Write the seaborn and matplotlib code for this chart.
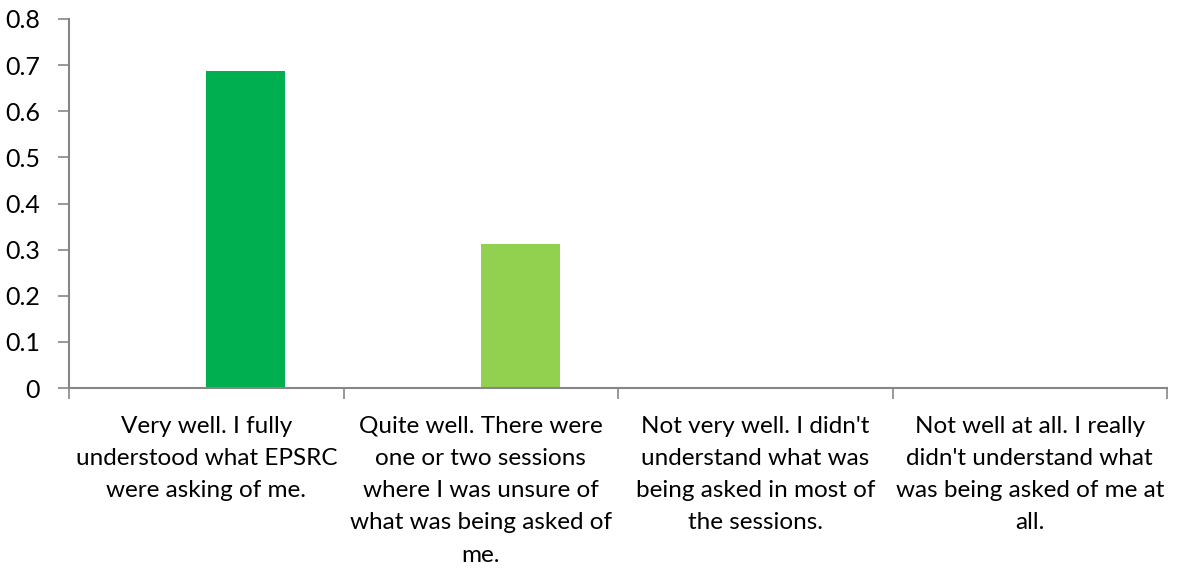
import matplotlib
matplotlib.use("Agg")
import matplotlib.pyplot as plt
import seaborn as sns
import pandas as pd
from matplotlib.ticker import FixedLocator, MultipleLocator

# Survey responses: how well participants understood what was asked
categories = [
    "Very well. I fully\nunderstood what EPSRC\nwere asking of me.",
    "Quite well. There were\none or two sessions\nwhere I was unsure of\nwhat was being asked of\nme.",
    "Not very well. I didn't\nunderstand what was\nbeing asked in most of\nthe sessions.",
    "Not well at all. I really\ndidn't understand what\nwas being asked of me at\nall.",
]
# Chart has an empty leading series, so the response bars sit right of centre
series_names = ["Blank", "Proportion"]
blank_values = [0.0, 0.0, 0.0, 0.0]
proportion_values = [0.6875, 0.3125, 0.0, 0.0]
bar_colors = ["#00B050", "#92D050", "#00B050", "#00B050"]

df = pd.DataFrame({
    "category": categories * 2,
    "series": [series_names[0]] * 4 + [series_names[1]] * 4,
    "value": blank_values + proportion_values,
})

sns.set_theme(style="white")
plt.rcParams["font.family"] = ["Lato", "DejaVu Sans"]

fig = plt.figure(figsize=(11.77, 5.68), dpi=100)
ax = fig.add_axes([69 / 1177, 1 - 388 / 568, (1167 - 69) / 1177, (388 - 19) / 568])

sns.barplot(data=df, x="category", y="value", hue="series",
            hue_order=series_names, order=categories,
            width=0.576, linewidth=0, ax=ax, legend=False)

for container in ax.containers:
    for patch in container:
        patch.set_linewidth(0)
for patch, c in zip(ax.containers[1], bar_colors):
    patch.set_facecolor(c)
for patch in ax.containers[0]:
    patch.set_alpha(0)

axis_gray = "#868686"
ax.set_ylim(0, 0.8)
ax.set_xlim(-0.5, len(categories) - 0.5)
ax.yaxis.set_major_locator(MultipleLocator(0.1))
ax.set_yticklabels(["0" if abs(v) < 1e-9 else f"{v:.1f}" for v in ax.get_yticks()])

# category boundary ticks as minor ticks, labels at centres without ticks
ax.xaxis.set_minor_locator(FixedLocator([i - 0.5 for i in range(len(categories) + 1)]))
ax.tick_params(axis="x", which="major", length=0, pad=20, labelsize=17.5, colors="black")
ax.tick_params(axis="x", which="minor", length=8, width=1.2, color=axis_gray, direction="out", bottom=True)
ax.tick_params(axis="y", which="major", length=8, width=1.2, color=axis_gray, direction="out",
               pad=13, labelsize=18, labelcolor="black", left=True)

for side in ["top", "right"]:
    ax.spines[side].set_visible(False)
for side in ["left", "bottom"]:
    ax.spines[side].set_visible(True)
    ax.spines[side].set_color(axis_gray)
    ax.spines[side].set_linewidth(1.5)

ax.set_xlabel("")
ax.set_ylabel("")
ax.grid(False)
for lbl in ax.get_xticklabels():
    lbl.set_linespacing(1.66)
    lbl.set_horizontalalignment("center")

fig.savefig("out.png", dpi=100, facecolor="white")
